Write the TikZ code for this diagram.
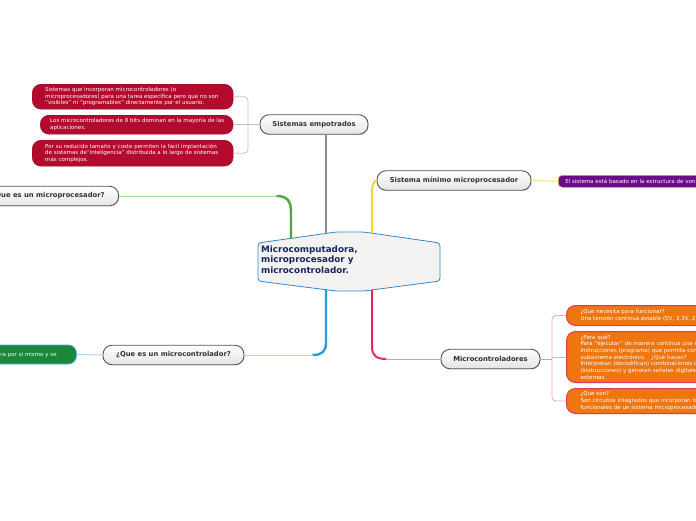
\documentclass[tikz,border=0pt]{standalone}
\usepackage{fontspec}
\setmainfont{DejaVu Sans}
\usetikzlibrary{shadows}
\definecolor{topicborder}{HTML}{555555}
\definecolor{topicfill}{HTML}{E4E4E4}
\definecolor{topictext}{HTML}{333333}
\definecolor{redbox}{HTML}{B30B2D}
\definecolor{orangebox}{HTML}{EF7511}
\definecolor{orangeborder}{HTML}{E5345F}
\definecolor{purplebox}{HTML}{6B0B87}
\definecolor{purpleborder}{HTML}{E6B422}
\definecolor{greenbox}{HTML}{1A8838}
\definecolor{greenborder}{HTML}{4DB0E8}
\definecolor{centralfill}{HTML}{F4F2F0}
\definecolor{centralborder}{HTML}{3088CC}
\definecolor{centraltext}{HTML}{15275C}
\definecolor{graybranch}{HTML}{8C8C8C}
\definecolor{greenbranch}{HTML}{4EA63C}
\definecolor{greenthin}{HTML}{A6D9A0}
\definecolor{yellowbranch}{HTML}{F5D22E}
\definecolor{yellowthin}{HTML}{F7E07A}
\definecolor{bluebranch}{HTML}{2A9BDA}
\definecolor{bluethin}{HTML}{A8D8F0}
\definecolor{pinkbranch}{HTML}{E0286A}
\definecolor{pinkthin}{HTML}{EE8FB0}
\definecolor{bracketgray}{HTML}{C4C4C4}
\definecolor{bracketpink}{HTML}{F2A6C0}
\begin{document}
\begin{tikzpicture}[x=1pt,y=-1pt,
  topic/.style={draw=topicborder, line width=0.9pt, rounded corners=9pt,
    top color=white, bottom color=topicfill, inner sep=0pt,
    minimum height=19.5pt, text=topictext,
    font=\fontsize{6.8}{8}\selectfont\bfseries,
    drop shadow={shadow xshift=0.8pt, shadow yshift=-0.8pt, opacity=0.2}},
  smalltext/.style={font=\fontsize{5.5}{6.7}\selectfont, text=white, align=left, inner ysep=2pt},
  rednode/.style={smalltext, fill=redbox, draw=redbox!85!black, line width=0.4pt, rounded corners=9pt, anchor=north west},
  orangenode/.style={smalltext, fill=orangebox, draw=orangeborder, line width=1pt, rounded corners=9pt, anchor=north west, inner xsep=14pt, text width=172pt},
  thinlink/.style={line width=1pt},
  branch/.style={line width=2.4pt, line cap=round}
]
\useasboundingbox (0,0) rectangle (696,520);
\fill[white] (0,0) rectangle (696,520);

% central topic
\draw[fill=centralfill, draw=centralborder, line width=0.8pt, rounded corners=3pt]
  (258,243) -- (336,232) -- (364,232) -- (440,243) -- (440,281) -- (364,291) -- (336,291) -- (258,281) -- cycle;
\node[anchor=north west, align=left, inner sep=0pt, text=centraltext,
  font=\fontsize{8.8}{10.5}\selectfont\bfseries] (c) at (261,245.5)
  {Microcomputadora,\\microprocesador y\\microcontrolador.};
\coordinate (cgray) at (326,233);
\coordinate (cgreen) at (291,238);
\coordinate (cyellow) at (372,233);
\coordinate (cblue) at (326,290);
\coordinate (cpink) at (372,290);

% main topics
\node[topic, minimum width=108pt] (se) at (314,124.5) {Sistemas empotrados};
\node[topic, minimum width=154pt] (smm) at (454,180.5) {Sistema mínimo microprocesador};
\node[topic, minimum width=141pt, anchor=east] (mp) at (119,196) {¿Que es un microprocesador?};
\node[topic, minimum width=141pt] (mc) at (173.5,355) {¿Que es un microcontrolador?};
\node[topic, minimum width=99pt] (mic) at (490.5,359) {Microcontroladores};

% branches from central topic
\draw[branch, graybranch] (cgray) -- (cgray |- se.south);
\draw[branch, greenbranch] (cgreen) -- (291,212) .. controls (291,201) and (287,196) .. (277,196);
\draw[thinlink, greenthin] (277,196) -- (mp.east);
\draw[line width=2pt, yellowbranch] (cyellow) -- (372,193) .. controls (372,186) and (373,181) .. (smm.west);
\draw[branch, bluebranch] (cblue) -- (326,343) .. controls (326,351) and (322,355) .. (313,355);
\draw[thinlink, bluethin] (313,355) -- (mc.east);
\draw[line width=2pt, pinkbranch] (cpink) -- (372,347) .. controls (372,355) and (376,359) .. (386,359);
\draw[thinlink, pinkthin] (386,359) -- (mic.west);

% Sistemas empotrados subtopics
\node[rednode, minimum width=201pt, minimum height=25pt, inner xsep=13pt, text width=175pt] (r1) at (32,84)
  {Sistemas que incorporan microcontroladores (o\\\mbox{microprocesadores) para una tarea específica pero que no son}\\"visibles" ni "programables" directamente por el usuario.};
\node[rednode, minimum width=193pt, minimum height=19pt, inner xsep=10pt, text width=173pt] (r2) at (40,115)
  {\mbox{Los microcontroladores de 8 bits dominan en la mayoría de las}\\aplicaciones.};
\node[rednode, minimum width=201pt, minimum height=26pt, inner xsep=13pt, text width=175pt] (r3) at (32,140)
  {\mbox{Por su reducido tamaño y coste permiten la fácil implantación}\\\mbox{de sistemas de"inteligencia" distribuida a lo largo de sistemas}\\más complejos.};
\coordinate (lb) at (248,124.5);
\draw[line width=0.8pt, bracketgray] (se.west) -- (lb);
\draw[line width=0.8pt, bracketgray, rounded corners=4pt] (r1.east) -| (lb) |- (r3.east);
\draw[line width=0.8pt, bracketgray] (r2.east) -- (r2.east -| lb);

% Sistema minimo subtopic
\node[smalltext, fill=purplebox, draw=purpleborder, line width=0.5pt, rounded corners=4pt,
  anchor=north west, minimum height=12pt, inner ysep=1pt, inner xsep=7pt, text width=190pt] (vn) at (558,175)
  {El sistema está basado en la estructura de von};
\draw[thinlink, yellowthin] (smm.east) -- (vn.west);

% microcontrolador subtopic
\node[smalltext, fill=greenbox, draw=greenborder, line width=0.8pt, rounded corners=8pt,
  anchor=west, minimum height=19pt, inner xsep=12pt, text width=64pt] (gn) at (-12,354.5)
  {ra por si mismo y se};
\draw[thinlink, bluethin] (mc.west) -- (gn.east);

% Microcontroladores subtopics
\node[orangenode, minimum height=20pt] (o1) at (566,305)
  {¿Que necesita para funcionar?\\Una tensión continua estable (5V, 3.3V, 2.5};
\node[orangenode, minimum height=51pt] (o2) at (566,331)
  {¿Para qué?\\Para "ejecutar" de manera continua una s\\instrucciones (programa) que permita con\\subsistema electrónico.\ \ \ ¿Qué hacen?\\Interpretan (decodifican) combinaciones d\\(instrucciones) y generan señales digitales\\externas.};
\node[orangenode, minimum height=25pt] (o3) at (566,388)
  {¿Que son?\\Son circuitos integrados que incorporan to\\funcionales de un sistema microprocesado};
\coordinate (rb) at (552,359);
\draw[thinlink, pinkthin] (mic.east) -- (rb);
\draw[line width=0.8pt, bracketpink, rounded corners=4pt] (o1.west) -| (rb) |- (o3.west);
\draw[line width=0.8pt, bracketpink] (o2.west) -- (o2.west -| rb);
\end{tikzpicture}
\end{document}
